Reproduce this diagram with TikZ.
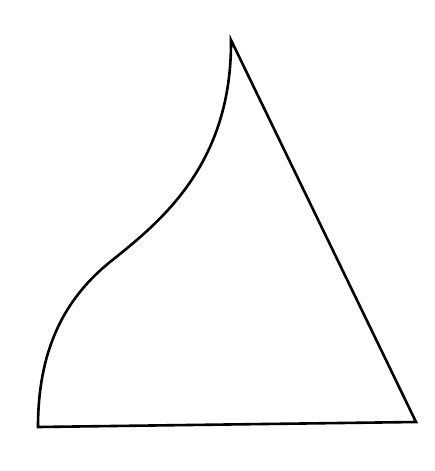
\documentclass[tikz,border=0pt]{standalone}
\begin{document}
\begin{tikzpicture}[x=1pt,y=-1pt,outline/.style={draw=black,line width=2.6pt,line join=miter}]
\useasboundingbox (0,0) rectangle (434,471);
\coordinate (top) at (231,40);
\coordinate (br) at (416,422);
\coordinate (bl) at (38,427);
\coordinate (mid) at (110,262);
\draw[outline] (bl) .. controls (38,345) and (68,296) .. (mid)
  .. controls (160,222) and (232,165) .. (top) -- (br) -- cycle;
\end{tikzpicture}
\end{document}
